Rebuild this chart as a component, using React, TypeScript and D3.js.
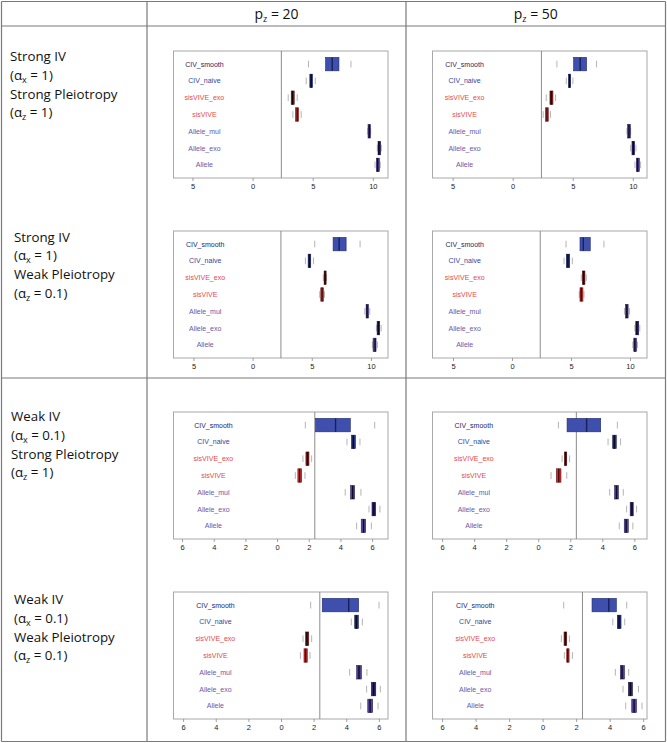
import React from "react";
import * as d3 from "d3";

// ---- categories ----
const methods = ["CIV_smooth", "CIV_naive", "sisVIVE_exo", "sisVIVE", "Allele_mul", "Allele_exo", "Allele"];
const labelColors = ["#24266f", "#34449a", "#e8474a", "#e8474a", "#6a57a8", "#6a57a8", "#6a57a8"];
const boxFills = ["#3f4fae", "#24307a", "#8a2020", "#c43232", "#4e3f91", "#33276e", "#554597"];
const boxStrokes = ["#1f2a6e", "#141c4d", "#4a0f0f", "#6e1515", "#2a1f5e", "#1c1446", "#2a1f5e"];
const medianColors = ["#18205a", "#080b26", "#140404", "#4a0c0c", "#120c2c", "#0c0820", "#120c2c"];

const colHeaders = ["20", "50"];
const ivNames = ["Strong IV", "Strong IV", "Weak IV", "Weak IV"];
const alphaX = ["1", "1", "0.1", "0.1"];
const pleioNames = ["Strong Pleiotropy", "Weak Pleiotropy", "Strong Pleiotropy", "Weak Pleiotropy"];
const alphaZ = ["1", "0.1", "1", "0.1"];

const truthValue = 2.35;
const strongTicks = [-5, 0, 5, 10];
const weakTicks = [-6, -4, -2, 0, 2, 4, 6];

// ---- series: [lower staple, Q1, median, Q3, upper staple] per method ----
const strongStrongP20 = [
  [4.61, 6.03, 6.58, 7.14, 8.14],
  [4.42, 4.72, 4.83, 4.94, 5.17],
  [2.92, 3.17, 3.28, 3.42, 3.67],
  [3.31, 3.53, 3.67, 3.78, 4.0],
  [9.53, 9.56, 9.67, 9.75, 9.78],
  [10.33, 10.39, 10.47, 10.61, 10.67],
  [10.14, 10.25, 10.36, 10.5, 10.58],
];
const strongStrongP50 = [
  [3.64, 5.03, 5.58, 6.11, 6.94],
  [4.42, 4.61, 4.69, 4.78, 4.97],
  [2.75, 3.06, 3.17, 3.31, 3.53],
  [2.5, 2.69, 2.81, 2.92, 3.11],
  [9.47, 9.53, 9.64, 9.75, 9.78],
  [9.78, 9.89, 10.0, 10.11, 10.22],
  [10.14, 10.25, 10.36, 10.5, 10.61],
];
const strongWeakP20 = [
  [5.21, 6.76, 7.27, 7.86, 9.04],
  [4.42, 4.65, 4.76, 4.87, 5.1],
  [5.93, 6.0, 6.08, 6.17, 6.2],
  [5.63, 5.72, 5.83, 5.94, 6.03],
  [9.44, 9.55, 9.63, 9.75, 9.86],
  [10.42, 10.48, 10.59, 10.7, 10.82],
  [10.08, 10.14, 10.31, 10.39, 10.5],
];
const strongWeakP50 = [
  [4.54, 5.72, 6.0, 6.59, 7.75],
  [4.37, 4.56, 4.7, 4.85, 5.07],
  [5.83, 5.92, 6.03, 6.14, 6.25],
  [5.66, 5.72, 5.83, 5.97, 6.06],
  [9.49, 9.58, 9.69, 9.8, 9.92],
  [10.37, 10.45, 10.54, 10.7, 10.79],
  [10.2, 10.28, 10.37, 10.51, 10.59],
];
const weakStrongP20 = [
  [1.75, 2.4, 3.66, 4.59, 6.13],
  [4.38, 4.67, 4.78, 4.91, 5.2],
  [1.6, 1.79, 1.89, 1.98, 2.15],
  [1.12, 1.28, 1.39, 1.52, 1.73],
  [4.27, 4.61, 4.74, 4.86, 5.26],
  [5.77, 5.96, 6.08, 6.19, 6.46],
  [4.99, 5.28, 5.43, 5.56, 5.92],
];
const weakStrongP50 = [
  [1.23, 1.77, 2.99, 3.87, 4.91],
  [4.33, 4.62, 4.72, 4.84, 5.11],
  [1.46, 1.6, 1.68, 1.75, 1.93],
  [0.77, 1.1, 1.25, 1.39, 1.75],
  [4.43, 4.74, 4.86, 4.97, 5.28],
  [5.49, 5.71, 5.82, 5.9, 6.11],
  [5.03, 5.34, 5.46, 5.59, 5.88],
];
const weakWeakP20 = [
  [1.79, 2.5, 4.12, 4.73, 5.98],
  [4.28, 4.49, 4.59, 4.71, 4.96],
  [1.32, 1.48, 1.56, 1.67, 1.85],
  [1.16, 1.38, 1.48, 1.58, 1.75],
  [4.18, 4.61, 4.75, 4.9, 5.24],
  [5.22, 5.51, 5.65, 5.78, 6.06],
  [4.86, 5.29, 5.43, 5.59, 5.92],
];
const weakWeakP50 = [
  [1.23, 2.92, 3.92, 4.37, 4.99],
  [4.16, 4.43, 4.53, 4.65, 4.87],
  [1.09, 1.25, 1.33, 1.41, 1.57],
  [1.27, 1.41, 1.47, 1.55, 1.75],
  [4.31, 4.61, 4.71, 4.85, 5.11],
  [4.77, 5.09, 5.21, 5.33, 5.69],
  [4.93, 5.29, 5.43, 5.57, 5.9],
];

// axis ranges of each panel
const xDomainsP20 = [[-6.62, 11.22], [-6.73, 11.4], [-6.57, 6.97], [-6.62, 6.53]];
const xDomainsP50 = [[-6.72, 11.14], [-6.78, 11.4], [-6.63, 6.76], [-6.6, 6.2]];

const panelDataP20 = [strongStrongP20, strongWeakP20, weakStrongP20, weakWeakP20];
const panelDataP50 = [strongStrongP50, strongWeakP50, weakStrongP50, weakWeakP50];

// layout
const W = 667;
const H = 743;
const colLines = [1.5, 147, 406, 665.5];
const rowLines = [1.5, 26, 378, 741.5];
const panelX = [173.5, 432.5];
const panelW = 214.5;
const panelY = [51, 231, 412, 592];
const panelH = 127;
const labelX = [10, 14, 11, 14];
const labelY0 = [61, 241.5, 421, 604];
const lineGap = 18.8;

const labelFont = "'Liberation Sans', Arial, sans-serif";
const textFont = "'Open Sans', 'Noto Sans', sans-serif";

function Panel({ data, domain, ticks, x, y }: any) {
  const xs = d3.scaleLinear().domain(domain).range([x, x + panelW]);
  const ys = d3.scaleLinear().domain([0.22, 7.78]).range([y + panelH, y]);
  const unit = Math.abs(ys(1) - ys(0));
  const boxHalf = 0.4 * unit;
  const stapleHalf = 0.2 * unit;
  const bottom = y + panelH;
  return (
    <g>
      <rect x={x} y={y} width={panelW} height={panelH} fill="white" stroke="#a8a8a8" strokeWidth={1} />
      <line x1={xs(truthValue)} x2={xs(truthValue)} y1={y} y2={bottom} stroke="#8c8c8c" strokeWidth={1} />
      {methods.map((m, i) => {
        const cy = ys(7 - i);
        const [lo, q1, med, q3, hi] = data[i];
        return (
          <g key={m}>
            <text
              x={xs(-4.05)}
              y={cy + 2.5}
              textAnchor="middle"
              fontFamily={labelFont}
              fontSize={7}
              fill={labelColors[i]}
            >
              {m}
            </text>
            <line x1={xs(lo)} x2={xs(lo)} y1={cy - stapleHalf} y2={cy + stapleHalf} stroke="#b4b4b4" strokeWidth={1} />
            <line x1={xs(hi)} x2={xs(hi)} y1={cy - stapleHalf} y2={cy + stapleHalf} stroke="#b4b4b4" strokeWidth={1} />
            <rect
              x={xs(q1)}
              y={cy - boxHalf}
              width={Math.max(xs(q3) - xs(q1), 1)}
              height={2 * boxHalf}
              fill={boxFills[i]}
              stroke={boxStrokes[i]}
              strokeWidth={0.6}
            />
            <line x1={xs(med)} x2={xs(med)} y1={cy - boxHalf} y2={cy + boxHalf} stroke={medianColors[i]} strokeWidth={1.4} />
          </g>
        );
      })}
      {ticks.map((t: number) => (
        <g key={t}>
          <line x1={xs(t)} x2={xs(t)} y1={bottom} y2={bottom + 3} stroke="#888" strokeWidth={0.8} />
          <text x={xs(t)} y={bottom + 10.5} textAnchor="middle" fontFamily={labelFont} fontSize={7.5} fill="#222">
            {String(Math.abs(t))}
          </text>
        </g>
      ))}
    </g>
  );
}

function RowLabel({ i }: { i: number }) {
  const x = labelX[i];
  const y0 = labelY0[i];
  const fs = 13.3;
  const sub = { fontSize: 9 };
  return (
    <g fontFamily={textFont} fontSize={fs} fill="#111">
      <text x={x} y={y0}>{ivNames[i]}</text>
      <text x={x} y={y0 + lineGap}>
        (α<tspan dy={3} style={sub}>x</tspan>
        <tspan dy={-3}>{" = " + alphaX[i] + ")"}</tspan>
      </text>
      <text x={x} y={y0 + 2 * lineGap}>{pleioNames[i]}</text>
      <text x={x} y={y0 + 3 * lineGap}>
        (α<tspan dy={3} style={sub}>z</tspan>
        <tspan dy={-3}>{" = " + alphaZ[i] + ")"}</tspan>
      </text>
    </g>
  );
}

export default function App() {
  return (
    <svg
      width={W}
      height={H}
      viewBox={`0 0 ${W} ${H}`}
      style={{ position: "absolute", left: 0, top: 0, background: "white" }}
    >
      <rect x={0} y={0} width={W} height={H} fill="white" />
      {colLines.map((cx, i) => (
        <line key={"c" + i} x1={cx} x2={cx} y1={rowLines[0]} y2={rowLines[3]} stroke="#7a7a7a" strokeWidth={1.2} />
      ))}
      {rowLines.map((ry, i) => (
        <line key={"r" + i} x1={colLines[0]} x2={colLines[3]} y1={ry} y2={ry} stroke="#7a7a7a" strokeWidth={1.2} />
      ))}
      {colHeaders.map((h, j) => (
        <text
          key={h}
          x={(colLines[j + 1] + colLines[j + 2]) / 2}
          y={19}
          textAnchor="middle"
          fontFamily={textFont}
          fontSize={14}
          fill="#111"
        >
          p<tspan dy={3} style={{ fontSize: 9 }}>z</tspan>
          <tspan dy={-3}>{" = " + h}</tspan>
        </text>
      ))}
      {ivNames.map((_, i) => (
        <RowLabel key={i} i={i} />
      ))}
      {panelDataP20.map((d, i) => (
        <Panel key={"a" + i} data={d} domain={xDomainsP20[i]} ticks={i < 2 ? strongTicks : weakTicks} x={panelX[0]} y={panelY[i]} />
      ))}
      {panelDataP50.map((d, i) => (
        <Panel key={"b" + i} data={d} domain={xDomainsP50[i]} ticks={i < 2 ? strongTicks : weakTicks} x={panelX[1]} y={panelY[i]} />
      ))}
    </svg>
  );
}
